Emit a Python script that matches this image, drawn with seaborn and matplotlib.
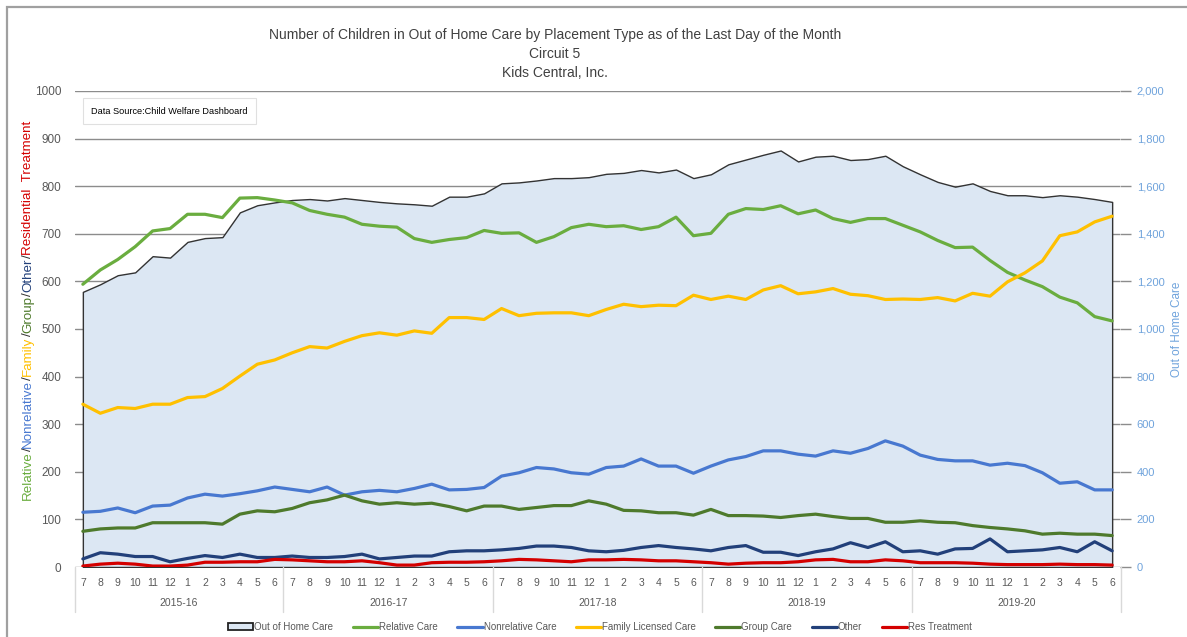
import numpy as np
import pandas as pd
import matplotlib
matplotlib.use("Agg")
import matplotlib.pyplot as plt
from matplotlib.patches import Patch, Rectangle
from matplotlib.lines import Line2D
from matplotlib.font_manager import FontProperties
import matplotlib.transforms as mtransforms
import seaborn as sns

# ---- data ----
month_labels = ['7', '8', '9', '10', '11', '12', '1', '2', '3', '4', '5', '6'] * 5
fiscal_years = ['2015-16', '2016-17', '2017-18', '2018-19', '2019-20']

out_of_home = [1156, 1188, 1226, 1238, 1306, 1300, 1366, 1382, 1386, 1490, 1520, 1532,
               1542, 1546, 1540, 1550, 1542, 1534, 1528, 1524, 1518, 1556, 1556, 1570,
               1612, 1616, 1624, 1634, 1634, 1638, 1652, 1656, 1668, 1658, 1670, 1634,
               1650, 1692, 1712, 1732, 1750, 1704, 1724, 1728, 1710, 1714, 1728, 1684,
               1650, 1618, 1598, 1612, 1580, 1562, 1562, 1554, 1562, 1556, 1546, 1534]
relative = [594, 624, 646, 673, 706, 711, 741, 741, 734, 775, 776, 771,
            765, 749, 741, 735, 720, 716, 714, 690, 682, 688, 692, 707,
            701, 702, 682, 694, 713, 720, 715, 717, 709, 715, 735, 696,
            701, 741, 753, 751, 759, 742, 750, 732, 724, 732, 732, 718,
            704, 686, 671, 672, 644, 619, 603, 589, 567, 555, 526, 517]
nonrelative = [115, 117, 124, 114, 128, 130, 145, 153, 149, 154, 160, 168,
               163, 158, 168, 151, 158, 161, 158, 165, 174, 162, 163, 167,
               191, 198, 209, 206, 198, 195, 209, 212, 227, 212, 212, 197,
               212, 225, 232, 244, 244, 237, 233, 244, 239, 249, 265, 254,
               235, 226, 223, 223, 214, 218, 213, 198, 176, 179, 162, 162]
family = [342, 323, 335, 333, 342, 342, 356, 358, 375, 401, 426, 435,
          450, 463, 460, 474, 486, 492, 487, 496, 491, 524, 524, 520,
          543, 528, 533, 534, 534, 528, 541, 552, 547, 550, 549, 571,
          562, 569, 562, 582, 591, 574, 578, 585, 573, 570, 562, 563,
          562, 566, 559, 575, 569, 599, 618, 643, 696, 704, 725, 737]
group = [75, 80, 82, 82, 93, 93, 93, 93, 90, 111, 118, 116,
         123, 135, 141, 151, 139, 132, 135, 132, 134, 127, 118, 128,
         128, 121, 125, 129, 129, 139, 132, 119, 118, 114, 114, 109,
         121, 108, 108, 107, 104, 108, 111, 106, 102, 102, 94, 94,
         97, 94, 93, 87, 83, 80, 76, 69, 71, 69, 69, 66]
other = [17, 30, 27, 22, 22, 11, 18, 24, 20, 27, 20, 20,
         23, 20, 20, 22, 27, 17, 20, 23, 23, 32, 34, 34,
         36, 39, 44, 44, 41, 34, 32, 35, 41, 45, 41, 38,
         34, 41, 45, 31, 31, 24, 32, 38, 51, 41, 53, 32,
         34, 27, 38, 39, 59, 32, 34, 36, 41, 32, 53, 34]
res_treatment = [2, 6, 8, 6, 2, 2, 4, 10, 10, 11, 11, 16,
                 15, 13, 11, 11, 13, 9, 4, 4, 9, 10, 10, 11,
                 13, 16, 15, 13, 11, 15, 15, 16, 15, 13, 13, 11,
                 9, 6, 8, 9, 9, 11, 15, 16, 11, 11, 15, 13,
                 9, 9, 9, 8, 6, 5, 5, 5, 6, 5, 5, 4]

series_names = ['Relative Care', 'Nonrelative Care', 'Family Licensed Care',
                'Group Care', 'Other', 'Res Treatment']
colors = {'Relative Care': '#6aad3f', 'Nonrelative Care': '#4878d0',
          'Family Licensed Care': '#ffc000', 'Group Care': '#4e7a2c',
          'Other': '#22407a', 'Res Treatment': '#d40000'}
area_color = '#dce7f3'
right_blue = '#6fa3dc'
gray_txt = '#595959'

x = np.arange(len(month_labels))
df = pd.DataFrame({'idx': x, 'Relative Care': relative, 'Nonrelative Care': nonrelative,
                   'Family Licensed Care': family, 'Group Care': group,
                   'Other': other, 'Res Treatment': res_treatment})
long_df = df.melt(id_vars='idx', var_name='series', value_name='count')

sns.set_style('white')
plt.rcParams['font.family'] = ['Liberation Sans', 'DejaVu Sans']

W, H = 1187, 637
fig = plt.figure(figsize=(W / 100, H / 100), dpi=100)
left, right_px, bottom_px, top_px = 75, 1120, 567, 91
ax2 = fig.add_axes([left / W, (H - bottom_px) / H, (right_px - left) / W,
                    (bottom_px - top_px) / H])
ax = ax2.twinx()
ax.set_zorder(ax2.get_zorder() + 1)
ax.patch.set_visible(False)

# right axis: out of home care area, with the gridlines behind it
ax2.set_ylim(0, 2000)
ax2.set_yticks(np.arange(0, 2001, 200))
ax2.grid(axis='y', color='#8c8c8c', lw=1.0, zorder=0)
ax2.set_axisbelow(True)
ax2.fill_between(x, out_of_home, color=area_color, edgecolor='#333333', lw=1.0, zorder=2)
ax2.yaxis.tick_right()
ax2.yaxis.set_label_position('right')
ax2.tick_params(axis='y', colors='#8c8c8c', labelcolor=right_blue, length=8,
                width=1, labelsize=8, pad=4, direction='out')
ax2.set_yticklabels([f'{v:,}' for v in range(0, 2001, 200)])
ax2.set_ylabel('Out of Home Care', color=right_blue, fontsize=8.5, labelpad=5)

# left axis: the placement-type lines
sns.lineplot(data=long_df, x='idx', y='count', hue='series', hue_order=series_names,
             palette=colors, lw=2.3, ax=ax, legend=False, zorder=5)
ax.set_ylim(0, 1000)
ax.set_yticks(np.arange(0, 1001, 100))
ax.yaxis.tick_left()
ax.tick_params(axis='y', length=0, labelsize=8.5, labelcolor=gray_txt, pad=10)
ax.set_ylabel('')
ax.set_xlabel('')

for a in (ax, ax2):
    a.set_xlim(-0.45, len(x) - 0.55)
    for s in a.spines.values():
        s.set_visible(False)

# month labels (drawn by the base axes) and fiscal-year groups
ax2.set_xticks(x)
ax2.set_xticklabels(month_labels)
ax2.tick_params(axis='x', length=0, labelsize=7.5, labelcolor=gray_txt, pad=8)
trans = mtransforms.blended_transform_factory(ax2.transData, ax2.transAxes)
depth = 45 / (bottom_px - top_px)
for k, fy in enumerate(fiscal_years):
    ax2.text(k * 12 + 5.5, -36 / (bottom_px - top_px), fy, transform=trans,
             ha='center', va='center', fontsize=7.5, color=gray_txt)
for b in range(len(fiscal_years) + 1):
    ax2.plot([b * 12 - 0.45 if b == 0 else b * 12 - 0.5] * 2, [0, -depth],
             transform=trans, color='#d9d9d9', lw=1, clip_on=False)

# title
fig.text(555 / W, 1 - 35 / H, 'Number of Children in Out of Home Care by Placement Type as of the Last Day of the Month',
         ha='center', va='center', fontsize=10, color='#404040')
fig.text(555 / W, 1 - 54 / H, 'Circuit 5', ha='center', va='center', fontsize=10, color='#404040')
fig.text(555 / W, 1 - 73 / H, 'Kids Central, Inc.', ha='center', va='center', fontsize=10, color='#404040')

# data source box
fig.text(91 / W, 1 - 111 / H, 'Data Source:Child Welfare Dashboard', ha='left', va='center',
         fontsize=6.6, color='black',
         bbox=dict(boxstyle='square,pad=0.9', fc='white', ec='#e0e0e0', lw=0.8))

# frame around figure (left and top edges visible)
fig.add_artist(Rectangle((7 / W, -0.1), 1.2, 1.1 - 7 / H, transform=fig.transFigure,
                         fill=False, ec='#a0a0a0', lw=1.6))

# multi-coloured left axis title, pieces laid end to end along a common baseline
pieces = [('Relative', colors['Relative Care']), ('/', '#333333'),
          ('Nonrelative', colors['Nonrelative Care']), ('/', '#333333'),
          ('Family', colors['Family Licensed Care']), ('/', '#333333'),
          ('Group', colors['Group Care']), ('/', '#333333'),
          ('Other', colors['Other']), ('/', '#333333'),
          ('Residential  Treatment', colors['Res Treatment'])]
fig.canvas.draw()
renderer = fig.canvas.get_renderer()
ylab_size = 9.6
fp = FontProperties(family=['Liberation Sans', 'DejaVu Sans'], size=ylab_size)


def text_w(s):
    return renderer.get_text_width_height_descent(s, fp, ismath=False)[0]


y0 = H - 500
prefix = ''
for txt, col in pieces:
    off = text_w(prefix + txt) - text_w(txt) if prefix else 0
    fig.text(31 / W, (y0 + off) / H, txt, rotation=90, rotation_mode='anchor',
             ha='left', va='baseline', fontproperties=fp, color=col)
    prefix += txt

# legend
handles = [Patch(facecolor=area_color, edgecolor='#222222', lw=1.3, label='Out of Home Care')]
handles += [Line2D([0], [0], color=colors[n], lw=2.3, label=n) for n in series_names]
fig.legend(handles=handles, loc='center', bbox_to_anchor=(600 / W, 1 - 627 / H), ncol=7,
           frameon=False, fontsize=7, handlelength=2.6, handleheight=0.6, handletextpad=0.1,
           columnspacing=2.0, labelcolor=gray_txt)

fig.savefig('out.png', dpi=100)
